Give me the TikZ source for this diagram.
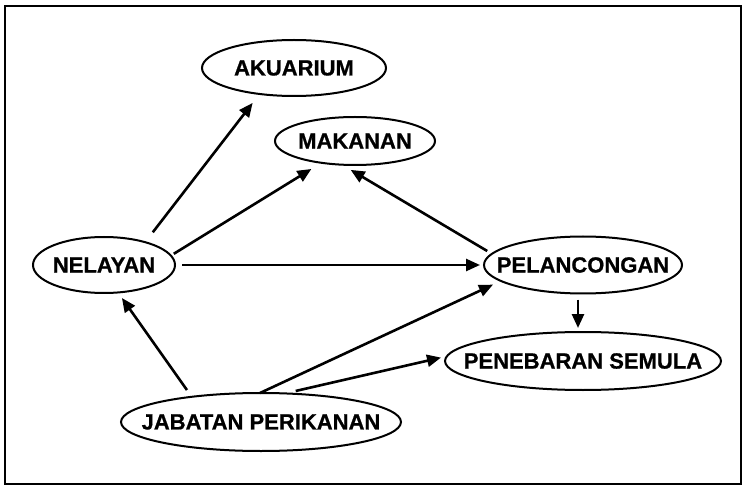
\documentclass[tikz,border=0pt]{standalone}
\usepackage{fontspec}
\setmainfont[BoldFeatures={FakeBold=0.8}]{Liberation Sans}
\usetikzlibrary{shapes.geometric,arrows.meta}
\begin{document}
\begin{tikzpicture}[x=1pt,y=-1pt,
  box/.style={ellipse,draw,line width=2pt,inner sep=0pt,outer sep=0pt,
    font=\fontsize{22}{24}\selectfont\bfseries},
  arr/.style={line width=2.6pt,-{Triangle[length=14pt,width=12pt]}}]
\useasboundingbox (0,0) rectangle (744,486);
\draw[line width=2.4pt] (5,6) rectangle (741,484);
\node[box,minimum width=184pt,minimum height=56pt] (A) at (294,68) {\makebox[0pt]{AKUARIUM}};
\node[box,minimum width=160pt,minimum height=48pt] (M) at (355,141) {\makebox[0pt]{MAKANAN}};
\node[box,minimum width=142pt,minimum height=56pt] (N) at (104,265) {\makebox[0pt]{NELAYAN}};
\node[box,minimum width=198pt,minimum height=57pt] (P) at (583,265) {\makebox[0pt]{PELANCONGAN}};
\node[box,minimum width=276pt,minimum height=58pt] (S) at (583,361) {\makebox[0pt]{PENEBARAN SEMULA}};
\node[box,minimum width=280pt,minimum height=58pt] (J) at (261,422) {\makebox[0pt]{JABATAN PERIKANAN}};
\draw[arr,shorten <=12.5pt,shorten >=11.3pt] (N.29.8) -- (A.217.5);
\draw[arr,shorten <=3.4pt,shorten >=11.8pt] (N.8.8) -- (M.213.7);
\draw[arr,shorten <=5.5pt,shorten >=10.2pt] (P.173) -- (M.241.8);
\draw[arr,shorten <=7pt,shorten >=4pt] (N.east) -- (P.west);
\draw[arr,shorten <=8.3pt,shorten >=6.8pt] (J.160) -- (N.297.2);
\draw[arr,shorten >=8.8pt] (J.92) -- (P.191.2);
\draw[arr,shorten <=11pt,shorten >=6pt] (J.50.8) -- (S.178.6);
\draw[arr,shorten <=6pt,shorten >=4pt] ([xshift=-5pt]P.south) -- ([xshift=-5pt]S.north);
\end{tikzpicture}
\end{document}
